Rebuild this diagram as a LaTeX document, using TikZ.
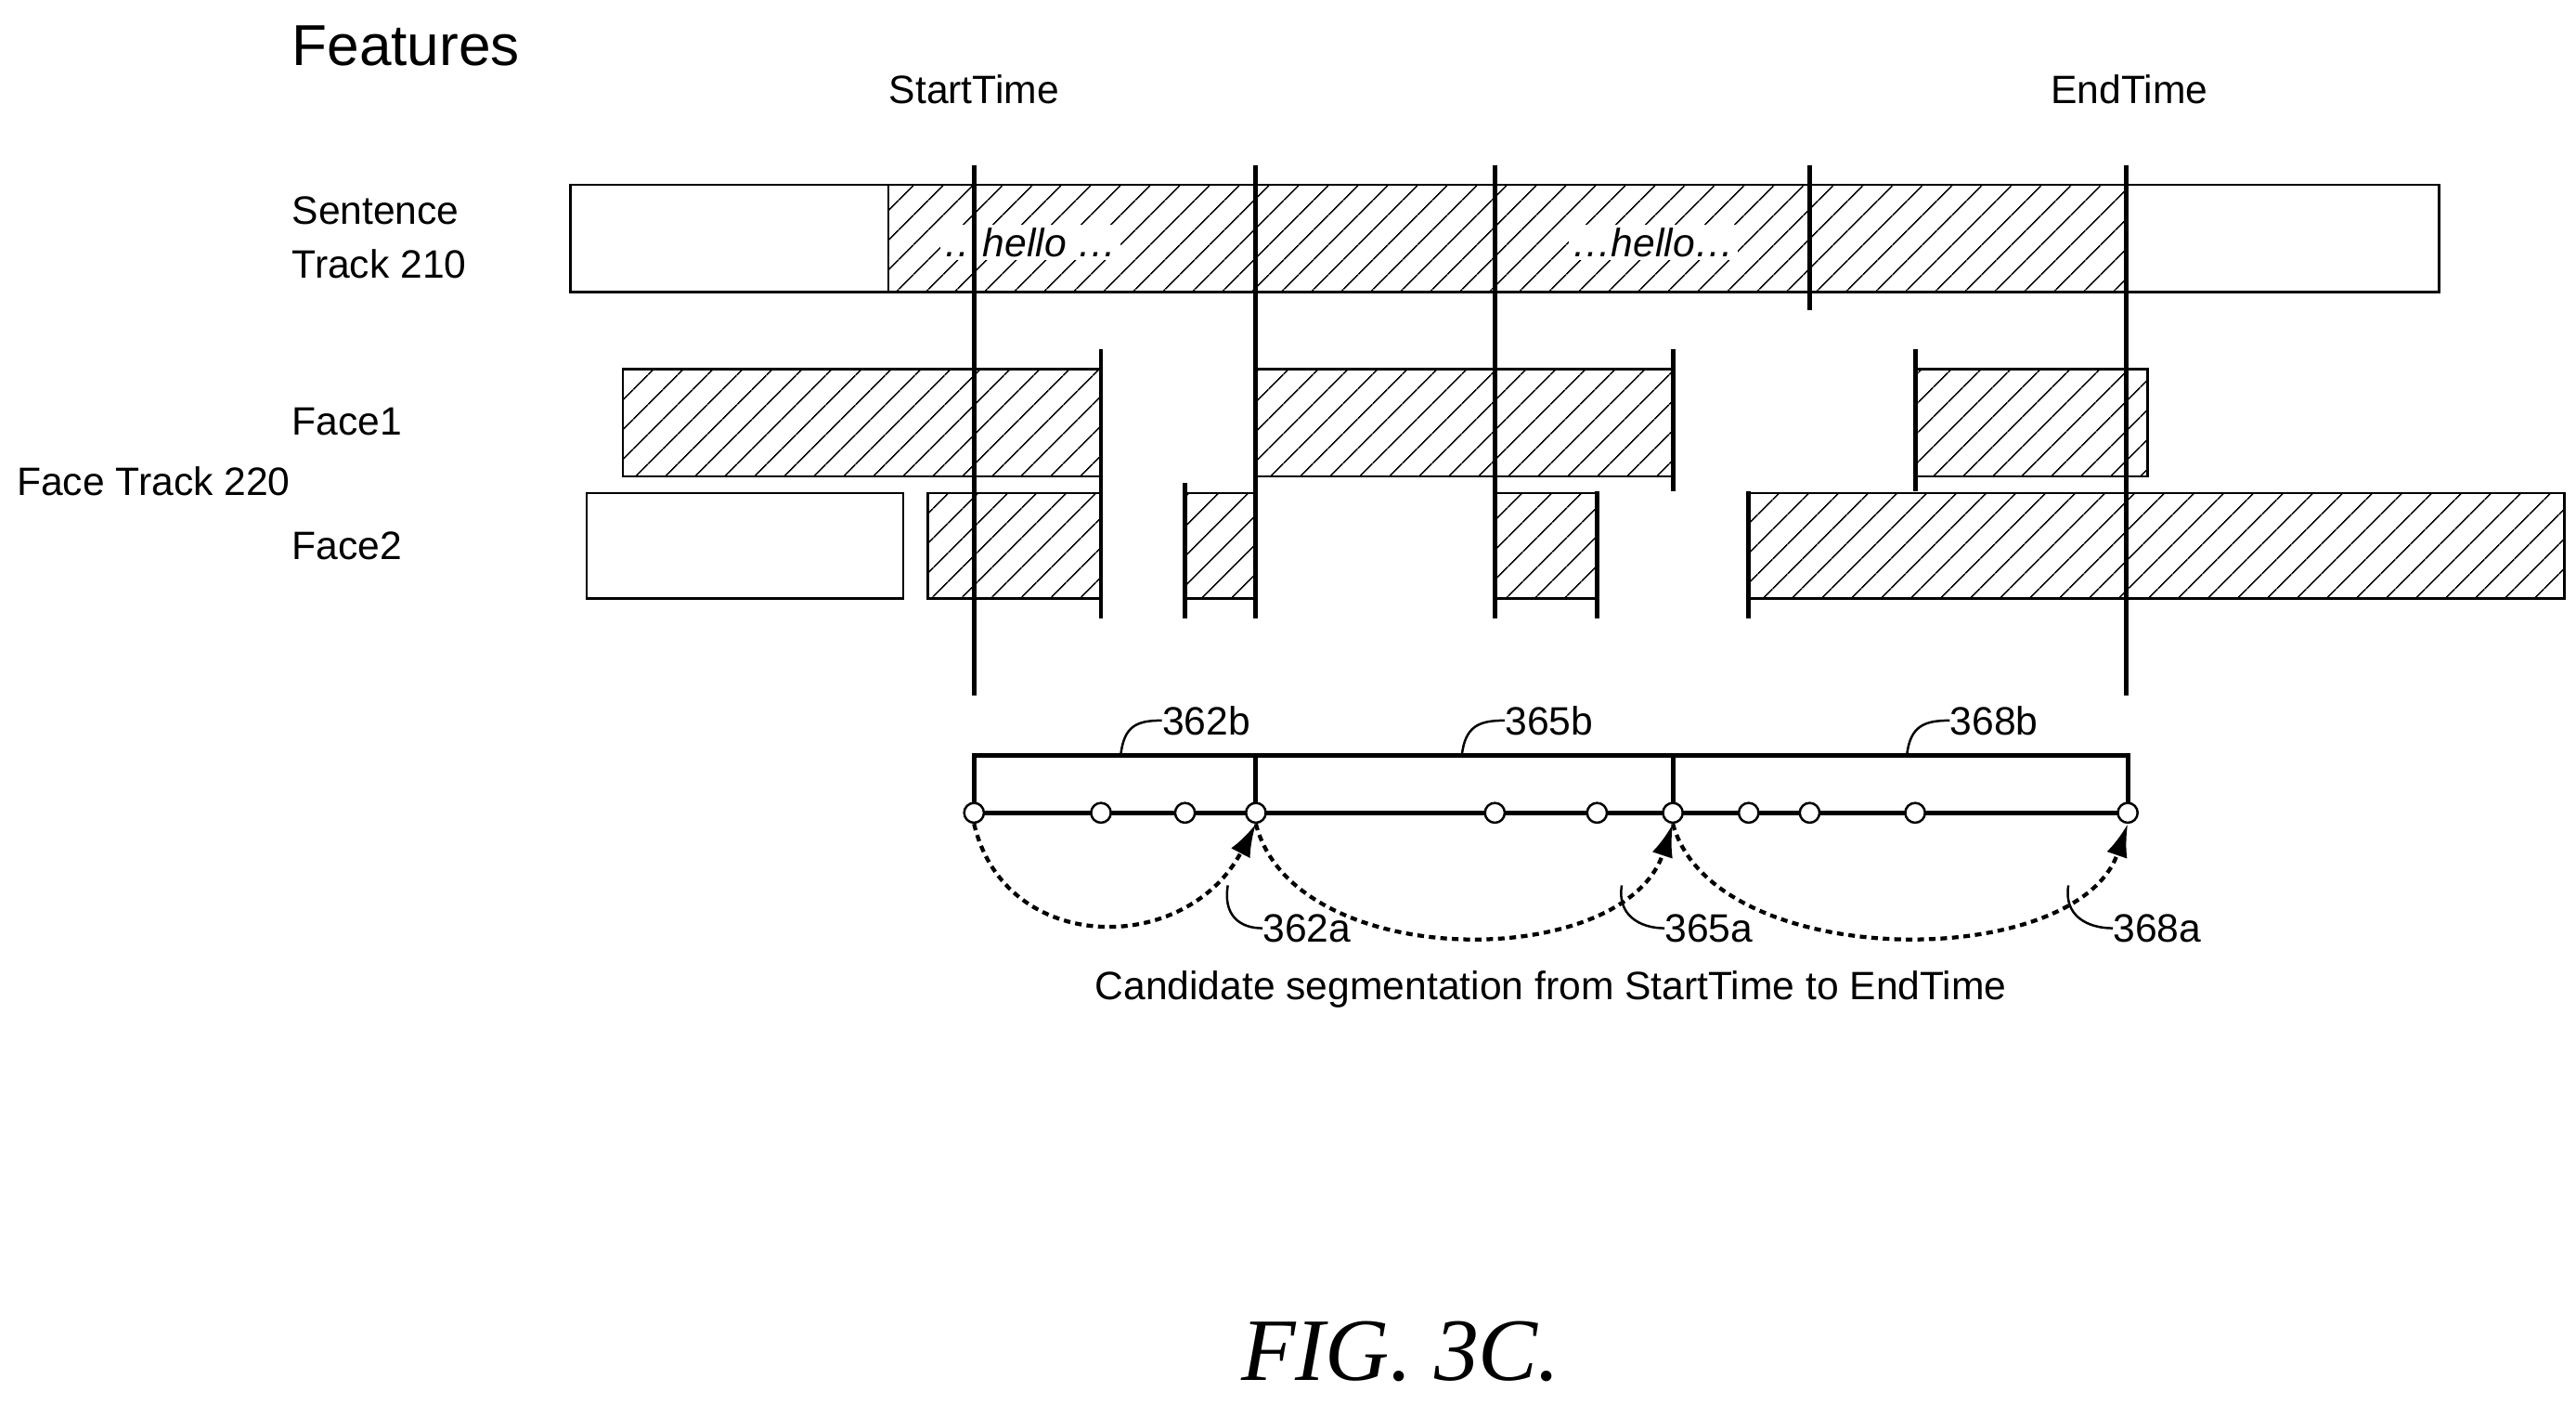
\documentclass[tikz,border=0pt]{standalone}
\usepackage{fontspec}
\setmainfont{Liberation Sans}
\newfontfamily\figfont{Liberation Serif}
\usetikzlibrary{patterns.meta,arrows.meta}
\begin{document}
\begin{tikzpicture}[x=1pt,y=-1pt,
 txt/.style={font=\fontsize{24}{28}\selectfont,inner sep=0pt},
 hb/.style={draw,line width=1.4pt,pattern={Lines[angle=45,distance=13pt,line width=0.9pt]}},
 wb/.style={draw,line width=1.4pt,fill=white},
 tk/.style={line width=2.8pt},
 ln/.style={line width=2.8pt},
 dot/.style={circle,draw,fill=white,line width=1.4pt,minimum size=12pt,inner sep=0pt},
 arc/.style={line width=2.4pt,dash pattern=on 4pt off 3pt,-{Latex[length=20pt,width=13pt]}},
 lead/.style={line width=1.4pt}]
\useasboundingbox (0,0) rectangle (1563,852);
\node[anchor=west,font=\fontsize{35}{40}\selectfont,inner sep=0pt] (feat) at (177,28) {Features};
\node[txt] (st) at (591,54) {StartTime};
\node[txt] (et) at (1292,54) {EndTime};
\node[txt,anchor=west] (s1) at (177,128) {Sentence};
\node[txt,anchor=west] (s2) at (177,160) {Track 210};
\node[txt,anchor=west] (f1) at (177,256) {Face1};
\node[txt,anchor=west] (f2) at (177,331) {Face2};
\node[txt,anchor=west] (ft) at (10,292) {Face Track 220};
% sentence track
\draw[wb] (346,112) rectangle (1480,177);
\draw[hb] (539,112) rectangle (1290,177);
\node[txt,fill=white,inner sep=2pt,font=\fontsize{24}{28}\selectfont\itshape] (h1) at (625,147) {\dots hello \dots};
\node[txt,fill=white,inner sep=2pt,font=\fontsize{24}{28}\selectfont\itshape] (h2) at (1003,147) {\dots hello\dots};
% faces
\draw[hb] (378,224) rectangle (668,289);
\draw[hb] (762,224) rectangle (1015,289);
\draw[hb] (1162,224) rectangle (1303,289);
\draw[wb] (356,299) rectangle (548,363);
\draw[hb] (563,299) rectangle (668,363);
\draw[hb] (719,299) rectangle (762,363);
\draw[hb] (907,299) rectangle (969,363);
\draw[hb] (1061,299) rectangle (1556,363);
% vertical lines
\draw[tk] (591,100) -- (591,422);
\draw[tk] (762,100) -- (762,375);
\draw[tk] (907,100) -- (907,375);
\draw[tk] (1098,100) -- (1098,188);
\draw[tk] (1290,100) -- (1290,422);
\draw[tk] (668,212) -- (668,375);
\draw[tk] (1015,212) -- (1015,298);
\draw[tk] (1162,212) -- (1162,298);
\draw[tk] (719,293) -- (719,375);
\draw[tk] (969,298) -- (969,375);
\draw[tk] (1061,298) -- (1061,375);
% timeline
\draw[ln] (591,493) -- (591,458) -- (1291,458) -- (1291,493);
\draw[ln] (762,458) -- (762,493);
\draw[ln] (1015,458) -- (1015,493);
\draw[ln] (591,493) -- (1291,493);
\foreach \n/\x in {a/591,b/668,c/719,d/762,e/907,f/969,g/1015,h/1061,i/1098,j/1162,k/1291}
  \node[dot] (p\n) at (\x,493) {};
\draw[arc] (pa.south) .. controls (610,580) and (720,580) .. (pd.south);
\draw[arc] (pd.south) .. controls (785,590) and (985,590) .. (pg.south);
\draw[arc] (pg.south) .. controls (1040,590) and (1260,590) .. (pk.south);
% labels
\node[txt,anchor=west] (l1) at (705,437) {362b};
\node[txt,anchor=west] (l2) at (913,437) {365b};
\node[txt,anchor=west] (l3) at (1183,437) {368b};
\draw[lead] (680,458) .. controls (682,440) and (690,437) .. (l1.west);
\draw[lead] (887,458) .. controls (889,440) and (898,437) .. (l2.west);
\draw[lead] (1157,458) .. controls (1159,440) and (1168,437) .. (l3.west);
\node[txt,anchor=west] (m1) at (766,563) {362a};
\node[txt,anchor=west] (m2) at (1010,563) {365a};
\node[txt,anchor=west] (m3) at (1282,563) {368a};
\draw[lead] (745,537) .. controls (742,555) and (752,563) .. (m1.west);
\draw[lead] (984,537) .. controls (981,555) and (995,563) .. (m2.west);
\draw[lead] (1255,537) .. controls (1252,555) and (1266,563) .. (m3.west);
\node[txt] (cap) at (941,600) {Candidate segmentation from StartTime to EndTime};
\node[font=\fontsize{54}{60}\selectfont\figfont\itshape,inner sep=0pt] (fig) at (850,820) {FIG. 3C.};
\end{tikzpicture}
\end{document}
